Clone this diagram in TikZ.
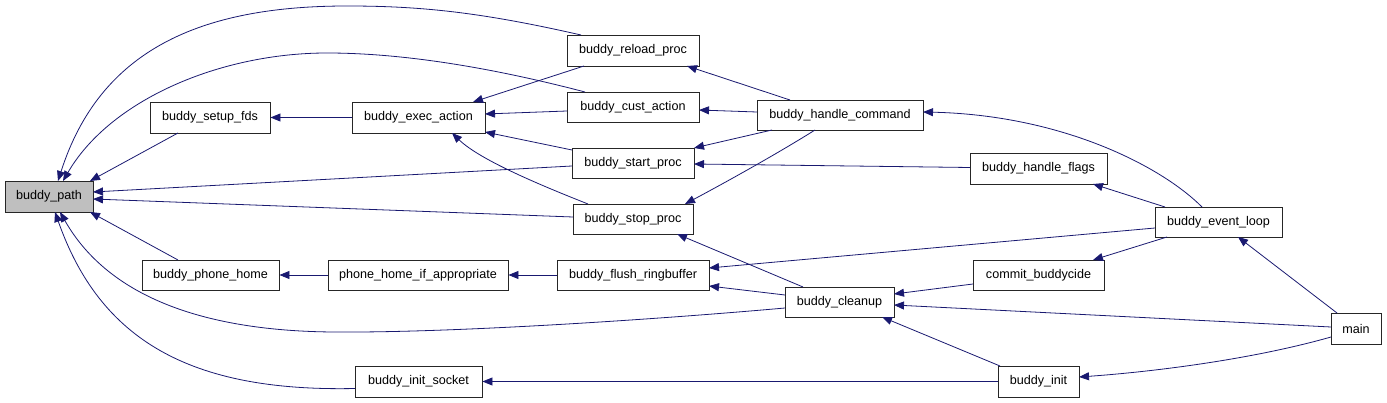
\documentclass[tikz,border=0pt]{standalone}
\usepackage{fontspec}
\setmainfont{Liberation Sans}
\usetikzlibrary{arrows.meta,calc}
\definecolor{edgeblue}{HTML}{191970}
\definecolor{boxgray}{HTML}{BFBFBF}
\tikzset{
  fn/.style={draw=black!85, line width=0.9pt, fill=white, minimum height=30pt, inner sep=0pt,
    font=\fontsize{12.6}{14}\selectfont, text=black, anchor=center},
  edge/.style={draw=edgeblue, line width=0.8pt, -{Triangle[length=10pt,width=8pt]}},
}
\begin{document}
\begin{tikzpicture}[x=1pt,y=-1pt]
\useasboundingbox (0,0) rectangle (1387,403);
% nodes
\node[fn, fill=boxgray, minimum width=88pt, minimum height=31pt] (path) at (49,196.5) {buddy\_path};
\node[fn, minimum width=120pt, minimum height=31pt] (setup) at (210,117.5) {buddy\_setup\_fds};
\node[fn, minimum width=137pt] (phone) at (210.5,275) {buddy\_phone\_home};
\node[fn, minimum width=127pt, minimum height=31pt] (socket) at (418.5,381.5) {buddy\_init\_socket};
\node[fn, minimum width=133pt, minimum height=31pt] (exec) at (418.5,117.5) {buddy\_exec\_action};
\node[fn, minimum width=180pt] (phoneif) at (418,275) {phone\_home\_if\_appropriate};
\node[fn, minimum width=132pt, minimum height=31pt] (reload) at (633,50.5) {buddy\_reload\_proc};
\node[fn, minimum width=132pt] (cust) at (633,107) {buddy\_cust\_action};
\node[fn, minimum width=122pt] (start) at (633,163) {buddy\_start\_proc};
\node[fn, minimum width=120pt] (stop) at (633,219) {buddy\_stop\_proc};
\node[fn, minimum width=152pt] (flush) at (633,275) {buddy\_flush\_ringbuffer};
\node[fn, minimum width=166pt] (hc) at (840,115) {buddy\_handle\_command};
\node[fn, minimum width=109pt] (cleanup) at (839.5,302) {buddy\_cleanup};
\node[fn, minimum width=137pt, minimum height=31pt] (hf) at (1038.5,168.5) {buddy\_handle\_flags};
\node[fn, minimum width=127pt] (el) at (1218.5,222) {buddy\_event\_loop};
\node[fn, minimum width=131pt] (commit) at (1038.5,275) {commit\_buddycide};
\node[fn, minimum width=50pt, minimum height=31pt] (main) at (1356,328.5) {main};
\node[fn, minimum width=81pt, minimum height=31pt] (init) at (1038.5,381.5) {buddy\_init};
% edges to buddy_path
\draw[edge] ($(reload)+(-52,-15.5)$) .. controls (480,12) and (420,6) .. (347,6)
   .. controls (200,6) and (100,50) .. ($(path)+(9,-15.5)$);
\draw[edge] ($(cust)+(-48,-15)$) .. controls (520,75) and (420,53) .. (327,53)
   .. controls (220,53) and (110,100) .. ($(path)+(14,-15.5)$);
\draw[edge] ($(setup)+(-32,15.5)$) -- ($(path)+(41,-15.5)$);
\draw[edge] ($(start)+(-61,3)$) -- ($(path)+(44,-4.5)$);
\draw[edge] ($(stop)+(-60,-2)$) -- ($(path)+(44,2.5)$);
\draw[edge] ($(phone)+(-32.5,-15)$) -- ($(path)+(41,15.5)$);
\draw[edge] ($(cleanup)+(-54.5,6)$) .. controls (650,320) and (450,333) .. (333,332)
   .. controls (210,331) and (110,300) .. ($(path)+(11,15.5)$);
\draw[edge] ($(socket)+(-63.5,7)$) .. controls (190,392) and (100,340) .. ($(path)+(6,15.5)$);
% other edges
\draw[edge] (exec.west) -- (setup.east);
\draw[edge] ($(reload)+(-49,15.5)$) -- ($(exec)+(54.5,-15.5)$);
\draw[edge] ($(cust)+(-66,4)$) -- ($(exec)+(66.5,-3.5)$);
\draw[edge] ($(start)+(-61,-13)$) -- ($(exec)+(66.5,14.5)$);
\draw[edge] ($(stop)+(-45,-15)$) .. controls (540,185) and (480,160) .. ($(exec)+(33.5,15.5)$);
\draw[edge] ($(hc)+(-50,-15)$) -- ($(reload)+(54,15.5)$);
\draw[edge] ($(hc)+(-83,-3)$) -- ($(cust)+(66,3)$);
\draw[edge] ($(hc)+(-68,15)$) -- ($(start)+(61,-15)$);
\draw[edge] ($(hc)+(-25,15)$) .. controls (780,152) and (730,180) .. ($(stop)+(52,-15)$);
\draw[edge] ($(hf)+(-68.5,-1)$) -- ($(start)+(61,1)$);
\draw[edge] ($(el)+(-16.5,-15)$) .. controls (1160,165) and (1060,115) .. ($(hc)+(83,-3)$);
\draw[edge] ($(el)+(-53.5,-15)$) -- ($(hf)+(54.5,15.5)$);
\draw[edge] ($(el)+(-63.5,6)$) -- ($(flush)+(76,-7)$);
\draw[edge] ($(el)+(-51.5,15)$) -- ($(commit)+(54.5,-15)$);
\draw[edge] ($(main)+(-19,-15.5)$) -- ($(el)+(19.5,15)$);
\draw[edge] (phoneif.west) -- (phone.east);
\draw[edge] (flush.west) -- (phoneif.east);
\draw[edge] ($(cleanup)+(-54.5,-7)$) -- ($(flush)+(76,11)$);
\draw[edge] ($(cleanup)+(-36.5,-15)$) -- ($(stop)+(44,15)$);
\draw[edge] ($(commit)+(-65.5,9)$) -- ($(cleanup)+(54.5,-8)$);
\draw[edge] ($(main)+(-25,-1.5)$) -- ($(cleanup)+(54.5,3)$);
\draw[edge] ($(init)+(-38.5,-15.5)$) -- ($(cleanup)+(42.5,15)$);
\draw[edge] ($(main)+(-25,8.5)$) .. controls (1250,360) and (1150,372) .. ($(init)+(40.5,-4.5)$);
\draw[edge] (init.west) -- (socket.east);
\end{tikzpicture}
\end{document}
